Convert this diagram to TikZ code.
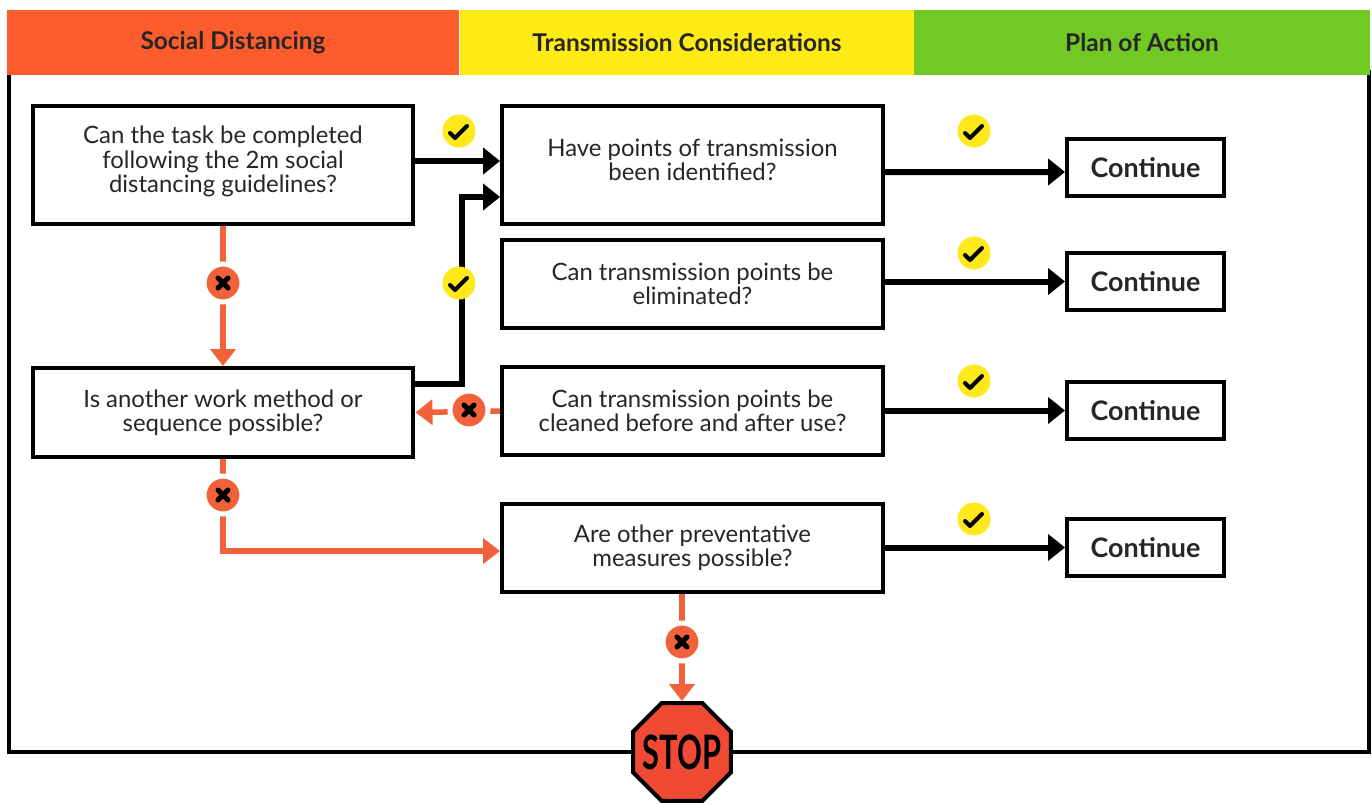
\documentclass[tikz,border=0pt]{standalone}
\usepackage{fontspec}
\setmainfont{Lato}
\usepackage{graphicx}
\usetikzlibrary{arrows.meta,shapes.geometric}
\definecolor{redorange}{HTML}{F2623A}
\definecolor{headred}{HTML}{FF5C2E}
\definecolor{headyellow}{HTML}{FFEB14}
\definecolor{headgreen}{HTML}{72C924}
\definecolor{badgeyellow}{HTML}{FFE81C}
\definecolor{stopred}{HTML}{F04A35}
\definecolor{inktext}{HTML}{262626}
\begin{document}
\begin{tikzpicture}[x=0.02cm,y=-0.02cm]
                \tikzset{header/.style = {minimum height=1.3cm,inner sep=0pt,text=inktext,font=\fontsize{13.9}{16}\selectfont\bfseries}}
                \tikzset{question/.style = {shape=rectangle,draw=black,line width=0.08cm,fill=white,align=center,text=inktext,inner sep=0pt,minimum width=7.62cm,font=\fontsize{13.6}{13.8}\selectfont}}
                \tikzset{result/.style = {shape=rectangle,draw=black,line width=0.08cm,fill=white,inner sep=0pt,text=inktext,minimum width=3.14cm,minimum height=1.14cm,font=\fontsize{15.3}{16}\selectfont\bfseries}}
                \tikzset{yesedge/.style = {draw=black,line width=0.12cm,-{Triangle[length=0.34cm,width=0.52cm]}}}
                \tikzset{noedge/.style = {draw=redorange,line width=0.11cm,-{Triangle[length=0.34cm,width=0.5cm]}}}
                \tikzset{yesbadge/.style = {shape=circle,fill=badgeyellow,minimum size=0.66cm,inner sep=0pt,
                        path picture={\draw[black,line width=0.08cm,line cap=round,line join=round]
                                (path picture bounding box.center) ++(-9,2) -- ++(5,5) -- ++(12,-12);}}}
                \tikzset{nobadge/.style = {shape=circle,fill=redorange,draw=white,line width=0.1cm,minimum size=0.76cm,inner sep=0pt,
                        path picture={\draw[black,line width=0.1cm,line cap=round]
                                (path picture bounding box.center) ++(-5,-5) -- ++(10,10) ++(0,-10) -- ++(-10,10);}}}
                \useasboundingbox (0,0) rectangle (1372,805);

                % frame and headers
                \draw[line width=0.08cm] (9,70) -- (9,752) -- (1369,752) -- (1369,70);
                \node[header,fill=headred,minimum width=9.04cm] (hsocial) at (233,42.5) {Social Distancing};
                \node[header,fill=headyellow,minimum width=9.1cm] (htrans) at (687,42.5) {Transmission Considerations};
                \node[header,fill=headgreen,minimum width=9.12cm] (hplan) at (1142,42.5) {Plan of Action};

                % questions
                \node[question,minimum height=2.36cm] (task) at (223,165) {Can the task be completed\\following the 2m social\\distancing guidelines?\\[-0.26cm]\mbox{}};
                \node[question,minimum height=1.78cm] (method) at (223,412.5) {Is another work method or\\sequence possible?};
                \node[question,minimum height=2.36cm] (points) at (692.5,165) {Have points of transmission\\been identified?\\[-0.29cm]\mbox{}};
                \node[question,minimum height=1.76cm] (elim) at (692.5,284) {Can transmission points be\\eliminated?};
                \node[question,minimum height=1.76cm] (clean) at (692.5,411) {Can transmission points be\\cleaned before and after use?};
                \node[question,minimum height=1.76cm] (other) at (692.5,548) {Are other preventative\\measures possible?};

                % results
                \node[result] (cont1) at (1145.5,167.5) {Continue};
                \node[result] (cont2) at (1145.5,281.5) {Continue};
                \node[result] (cont3) at (1145.5,410.5) {Continue};
                \node[result] (cont4) at (1145.5,547.5) {Continue};
                \node[shape=regular polygon,regular polygon sides=8,draw=black,line width=0.08cm,fill=stopred,
                        minimum size=2.12cm,inner sep=0pt,text=black] (stop) at (682,752)
                        {\makebox[0pt][c]{\fontsize{27}{30}\selectfont\scalebox{0.65}[1]{\textbf{STOP}}}};

                %edges
                \draw[yesedge] ([yshift=0.08cm]task.east) -- ([yshift=0.08cm]points.west);
                \draw[yesedge] ([yshift=0.57cm]method.east) -- ++(47,0) |- ([yshift=-0.64cm]points.west);
                \draw[yesedge] ([yshift=-0.14cm]points.east) -- ([yshift=-0.09cm]cont1.west);
                \draw[yesedge] (cont2.west -| elim.east) -- (cont2.west);
                \draw[yesedge] (cont3.west -| clean.east) -- (cont3.west);
                \draw[yesedge] (cont4.west -| other.east) -- (cont4.west);
                \draw[noedge] (task) -- (method);
                \draw[noedge] (clean.west) -- (method.east);
                \draw[noedge] (method.south) |- ([yshift=-0.06cm]other.west);
                \draw[noedge] (stop.north |- other.south) -- (stop.north);

                % badges
                \node[yesbadge] (yes1) at (459,131) {};
                \node[yesbadge] (yes2) at (459,283) {};
                \node[yesbadge] (yes3) at (974,131) {};
                \node[yesbadge] (yes4) at (974,253) {};
                \node[yesbadge] (yes5) at (974,381) {};
                \node[yesbadge] (yes6) at (974,519) {};
                \node[nobadge] (no1) at (223,283) {};
                \node[nobadge] (no2) at (469,410) {};
                \node[nobadge] (no3) at (223,495) {};
                \node[nobadge] (no4) at (682,642) {};
\end{tikzpicture}
\end{document}
